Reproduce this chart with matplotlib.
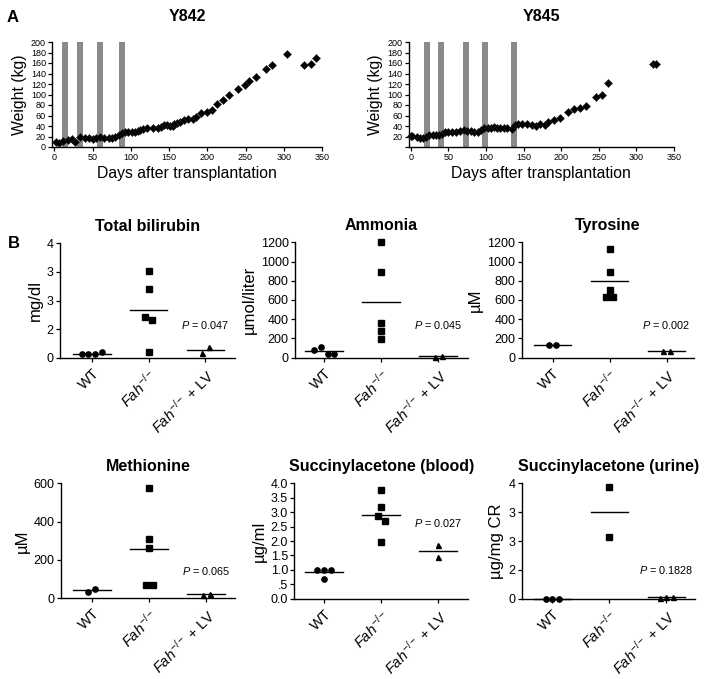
import numpy as np
import matplotlib
matplotlib.use('Agg')
import matplotlib.pyplot as plt

plt.rcParams['font.family'] = ['Liberation Sans', 'DejaVu Sans']
plt.rcParams['mathtext.fontset'] = 'custom'
plt.rcParams['mathtext.rm'] = 'Liberation Sans'
plt.rcParams['mathtext.it'] = 'Liberation Sans:italic'
plt.rcParams['mathtext.bf'] = 'Liberation Sans:bold'

# ---------------- Panel A data ----------------
y842_days = [2, 6.5, 12, 18, 23, 27, 34, 40, 45, 51, 55, 60, 65, 71, 75, 79, 84, 88, 93, 97,
             101, 106, 109, 112, 116, 121, 129, 136, 140, 144, 147, 151, 155, 157, 161, 164,
             170, 175, 181, 185, 192, 199, 206, 213, 220, 229, 240, 249, 255, 264, 277, 284,
             304, 327, 335, 342]
y842_kg = [10, 7, 12, 13, 15, 9, 20, 17, 16.5, 15, 17, 20, 16.5, 18, 18, 20, 23, 27, 29, 29,
           29, 28, 30, 32, 35, 37, 36, 36, 39, 41, 41, 40, 40, 44, 45, 47,
           51, 53, 53, 58, 65, 67, 70, 81, 89, 99, 111, 119, 126, 133, 149, 156,
           177, 156, 159, 170]
y842_bars = [13.5, 34, 60, 89]

y845_days = [0, 2, 8, 12, 16, 20, 24, 29, 33, 38, 41, 46, 50, 55, 60, 66, 71, 75, 80, 84, 89,
             93, 97, 102, 106, 111, 115, 119, 124, 128, 134, 139, 143, 148, 154, 161, 167,
             172, 178, 183, 190, 198, 209, 217, 225, 233, 246, 254, 262, 322, 327]
y845_kg = [21, 21, 20, 18, 16.5, 20, 23, 22, 22, 23, 25, 28, 29, 29, 29, 30, 32, 31, 30, 29, 29,
           33, 36, 36, 37, 39, 37, 36, 36, 36, 35, 41, 43, 43, 43, 41, 40,
           43, 41, 47, 51, 56, 67, 73, 74, 79, 96, 100, 121, 159, 159]
y845_bars = [21, 40.5, 73, 98.5, 137.7]

weight_ticks = [0, 20, 40, 60, 80, 100, 120, 140, 160, 180, 200]
y842_ticklabels = ['0', '20', '40', '60', '80', '100', '120', '140', '160', '180', '200']
y845_ticklabels = ['', '20', '40', '60', '80', '100', '120', '140', '160', '180', '200']
day_ticks = [0, 50, 100, 150, 200, 250, 300, 350]

# ---------------- Panel B data ----------------
categories = ['WT', r'$\mathit{Fah}^{-/-}$', r'$\mathit{Fah}^{-/-}$ + LV']

bili_wt = [0.12, 0.12, 0.12, 0.20]
bili_fah = [3.02, 2.40, 1.41, 1.32, 0.19]
bili_lv = [0.18, 0.37]
bili_ticks = [0, 1, 2, 3, 4]
bili_ticklabels = ['0', '2', '3', '3', '4']

amm_wt = [76, 114, 35, 35]
amm_fah = [1200, 888, 364, 274, 194]
amm_lv = [8, 18]
amm_ticks = [0, 200, 400, 600, 800, 1000, 1200]
amm_ticklabels = ['0', '200', '400', '600', '800', '1000', '1200']

tyr_wt = [132, 132]
tyr_fah = [1134, 888, 700, 628, 628]
tyr_lv = [69, 69]
tyr_ticks = amm_ticks
tyr_ticklabels = amm_ticklabels

met_wt = [35, 47]
met_fah = [577, 308, 261, 70, 70]
met_lv = [19, 21]
met_ticks = [0, 200, 400, 600]
met_ticklabels = ['0', '200', '400', '600']

sab_wt = [0.99, 0.99, 0.99, 0.68]
sab_fah = [3.77, 3.17, 2.87, 2.68, 1.98]
sab_lv = [1.86, 1.43]
sab_ticks = [0, 0.5, 1, 1.5, 2, 2.5, 3, 3.5, 4]
sab_ticklabels = ['0.0', '.5', '1.0', '1.5', '2.0', '2.5', '3.0', '3.5', '4.0']

sau_wt = [0, 0, 0]
sau_fah = [3.88, 2.13]
sau_lv = [0.04, 0.07, 0.05]
sau_ticks = [0, 1, 2, 3, 4]
sau_ticklabels = ['0', '2', '3', '3', '4']

pvals = ['0.047', '0.045', '0.002', '0.065', '0.027', '0.1828']

# ---------------- figure ----------------
W, H = 704, 679
fig = plt.figure(figsize=(W / 100, H / 100), dpi=100)


def ax_px(l, t, r, b):
    return fig.add_axes([l / W, 1 - b / H, (r - l) / W, (b - t) / H])


def style_axes(ax, tick_fs):
    for s in ['top', 'right']:
        ax.spines[s].set_visible(False)
    for s in ['left', 'bottom']:
        ax.spines[s].set_linewidth(1.0)
    ax.tick_params(axis='both', direction='out', length=3, width=0.9,
                   labelsize=tick_fs, pad=1.5)


def weight_panel(ax, days, kg, bars, title, xlo, yticklabels):
    ax.bar(bars, [200] * len(bars), width=8, color='#8a8a8a', zorder=1, linewidth=0)
    ax.plot(days, kg, 'D', ms=4.2, color='black', mec='#222222', mew=0.4, zorder=3,
            clip_on=False)
    ax.set_xlim(xlo, 350)
    ax.set_ylim(0, 200)
    ax.set_xticks(day_ticks)
    ax.set_yticks(weight_ticks)
    ax.set_yticklabels(yticklabels)
    style_axes(ax, 6.5)
    ax.set_ylabel('Weight (kg)', fontsize=11.3, labelpad=3)
    ax.set_xlabel('Days after transplantation', fontsize=11.3, labelpad=3)
    ax.set_title(title, fontsize=11.5, fontweight='bold', pad=15)


axA1 = ax_px(52.3, 42, 322, 147)
weight_panel(axA1, y842_days, y842_kg, y842_bars, 'Y842', -2.6, y842_ticklabels)
axA2 = ax_px(408.7, 42, 673.7, 147)
weight_panel(axA2, y845_days, y845_kg, y845_bars, 'Y845', -3.0, y845_ticklabels)

fig.text(7 / W, 1 - 17 / H, 'A', fontsize=12, fontweight='bold', va='center', ha='left')
fig.text(8 / W, 1 - 243 / H, 'B', fontsize=12, fontweight='bold', va='center', ha='left')


def spread(vals, tol, step=0.12):
    vals = np.asarray(vals, float)
    order = np.argsort(vals, kind='stable')
    offs = np.zeros(len(vals))
    groups = []
    cur = [order[0]]
    for i in order[1:]:
        if vals[i] - vals[cur[-1]] < tol:
            cur.append(i)
        else:
            groups.append(cur)
            cur = [i]
    groups.append(cur)
    for g in groups:
        g = sorted(g)
        n = len(g)
        for k, i in enumerate(g):
            offs[i] = (k - (n - 1) / 2) * step
    return offs


markers = ['o', 's', '^']
msizes = [3.8, 3.8, 3.6]


def dot_panel(box, title, ylabel, groups, ticks, ticklabels, pval, pfrac, xlim):
    ax = ax_px(*box)
    ymax = ticks[-1]
    for i, vals in enumerate(groups):
        offs = spread(vals, 0.05 * ymax)
        ax.plot(i + offs, vals, markers[i], ms=msizes[i], color='black', zorder=3,
                clip_on=False)
        m = np.mean(vals)
        ax.plot([i - 0.33, i + 0.33], [m, m], color='black', lw=1.0, zorder=2,
                clip_on=False)
    ax.set_xlim(*xlim)
    ax.set_ylim(0, ymax)
    ax.set_yticks(ticks)
    ax.set_yticklabels(ticklabels)
    ax.set_xticks([0, 1, 2])
    ax.set_xticklabels(categories, rotation=45, ha='right', rotation_mode='anchor',
                       fontsize=10.5)
    style_axes(ax, 9)
    ax.tick_params(axis='x', labelsize=10.5, pad=3)
    ax.set_ylabel(ylabel, fontsize=12, labelpad=3)
    ax.set_title(title, fontsize=11.5, fontweight='bold', pad=9)
    ax.text(2, pfrac * ymax, r'$\mathit{P}$ = ' + pval, fontsize=7.8,
            ha='center', va='center')
    return ax


dot_panel((60, 243.3, 235, 357.7), 'Total bilirubin', 'mg/dl',
          [bili_wt, bili_fah, bili_lv], bili_ticks, bili_ticklabels, pvals[0], 0.286,
          (-0.56, 2.52))
dot_panel((295, 242.3, 468, 357.7), 'Ammonia', 'µmol/liter',
          [amm_wt, amm_fah, amm_lv], amm_ticks, amm_ticklabels, pvals[1], 0.286,
          (-0.51, 2.52))
dot_panel((521.7, 242.3, 694, 357.7), 'Tyrosine', 'µM',
          [tyr_wt, tyr_fah, tyr_lv], tyr_ticks, tyr_ticklabels, pvals[2], 0.286,
          (-0.54, 2.48))
dot_panel((61, 483.3, 235, 598.3), 'Methionine', 'µM',
          [met_wt, met_fah, met_lv], met_ticks, met_ticklabels, pvals[3], 0.24,
          (-0.54, 2.5))
dot_panel((294.3, 483.3, 468, 598.7), 'Succinylacetone (blood)', 'µg/ml',
          [sab_wt, sab_fah, sab_lv], sab_ticks, sab_ticklabels, pvals[4], 0.66,
          (-0.52, 2.52))
dot_panel((521.7, 483.3, 695, 598.7), 'Succinylacetone (urine)', 'µg/mg CR',
          [sau_wt, sau_fah, sau_lv], sau_ticks, sau_ticklabels, pvals[5], 0.25,
          (-0.54, 2.5))

fig.savefig('out.png', dpi=100)
